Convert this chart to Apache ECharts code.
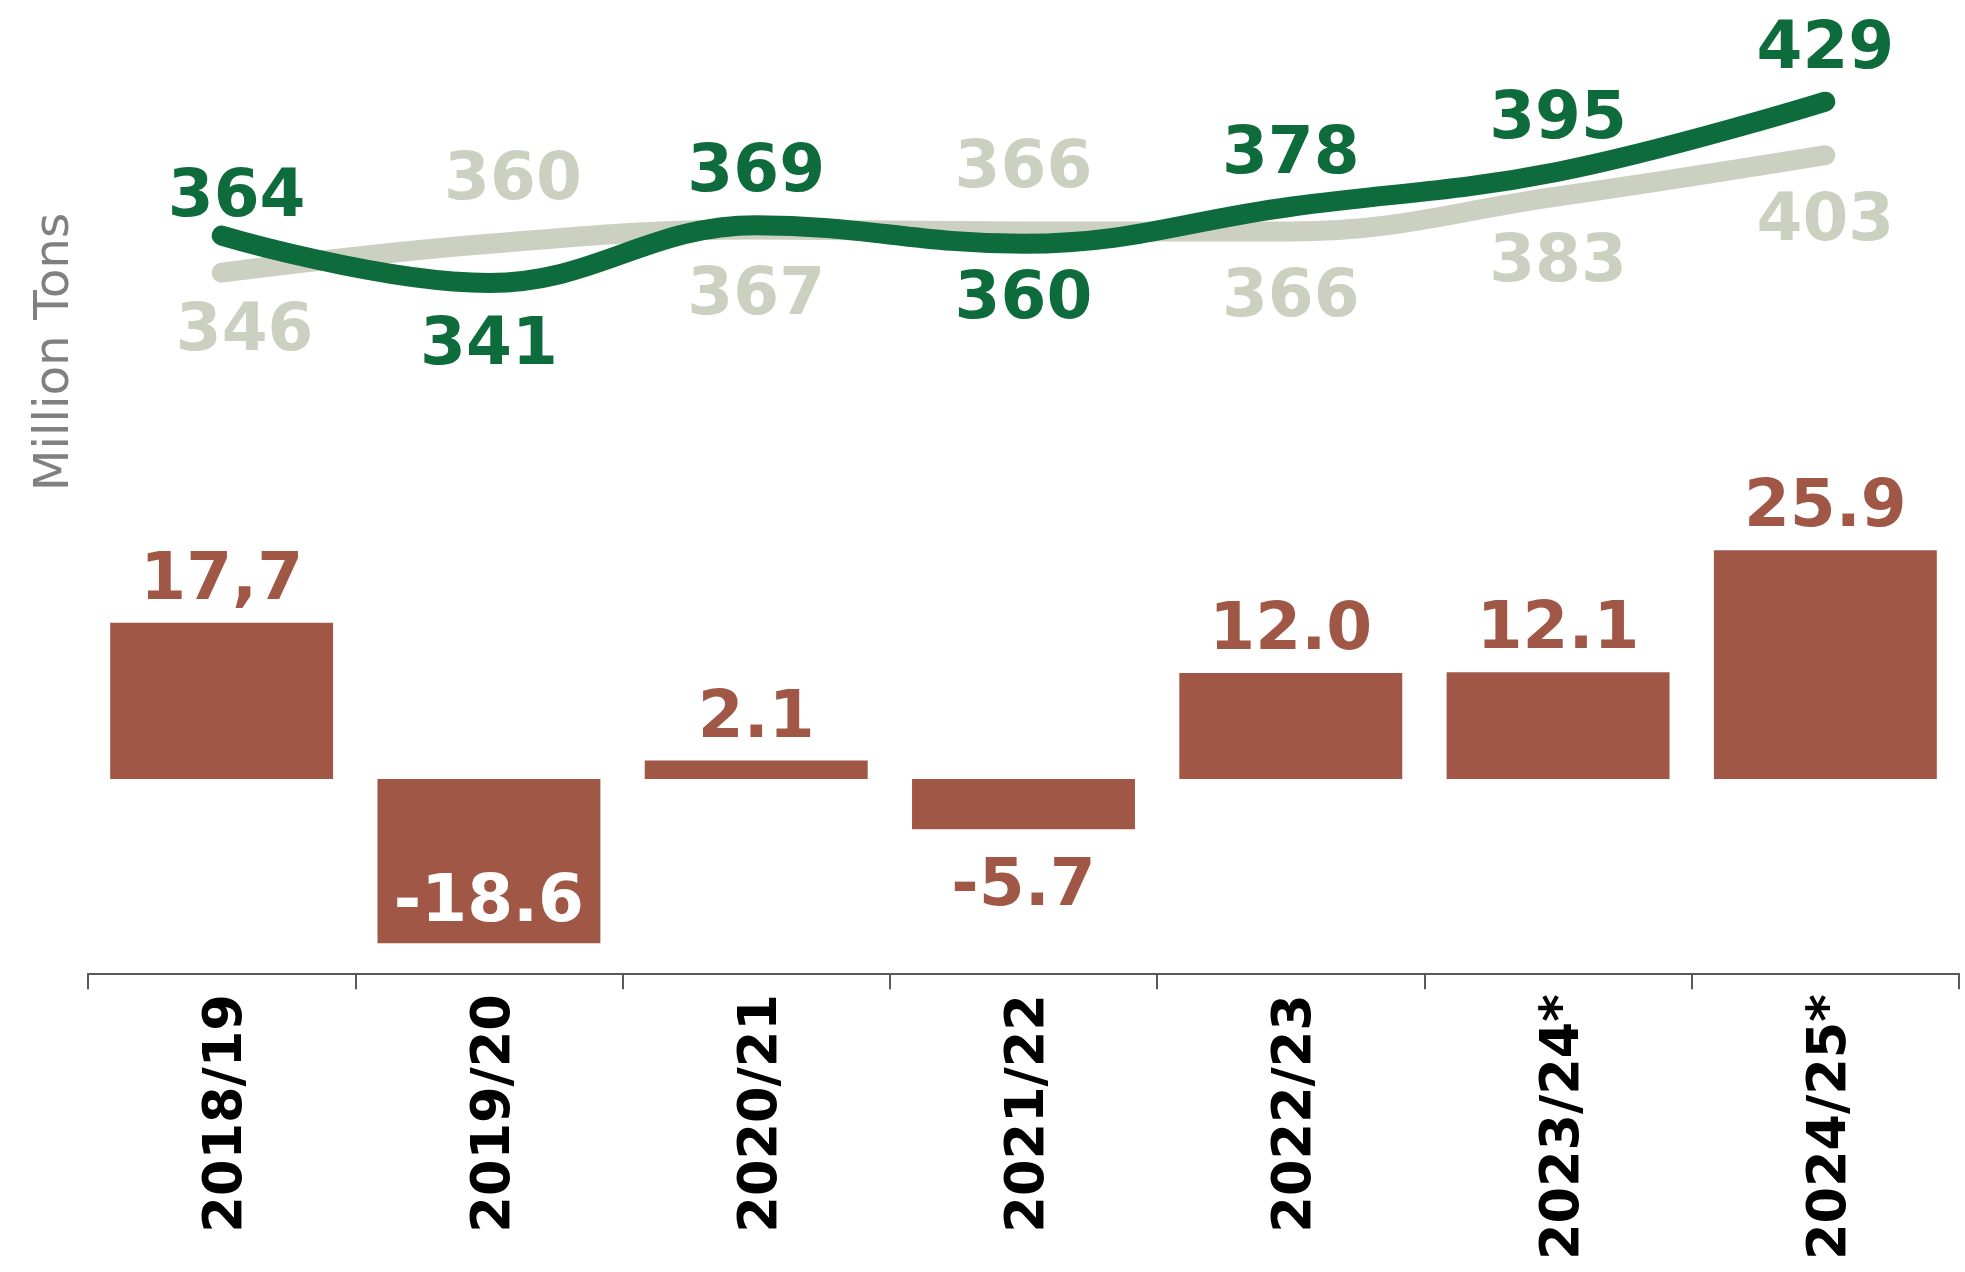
<!DOCTYPE html>
<html>
<head>
<meta charset="utf-8">
<script src="https://cdn.jsdelivr.net/npm/echarts@6/dist/echarts.min.js"></script>
<style>
html,body{margin:0;padding:0;background:#fff;}
#chart{width:1965px;height:1272px;}
</style>
</head>
<body>
<div id="chart"></div>
<script>
const categories = ['2018/19', '2019/20', '2020/21', '2021/22', '2022/23', '2023/24*', '2024/25*'];
const productionValues = [364, 341, 369, 360, 378, 395, 429];
const consumptionValues = [346, 360, 367, 366, 366, 383, 403];
const balanceValues = [17.7, -18.6, 2.1, -5.7, 12.0, 12.1, 25.9];
const balanceLabels = ['17,7', '-18.6', '2.1', '-5.7', '12.0', '12.1', '25.9'];
const productionLabelSide = ['top', 'bottom', 'top', 'bottom', 'top', 'top', 'top'];
const consumptionLabelSide = ['bottom', 'top', 'bottom', 'top', 'bottom', 'bottom', 'bottom'];
const yAxisTitle = 'Million Tons';

const GREEN = '#0E6B3C';
const GRAY = '#CCD0C0';
const BROWN = '#A15745';
const FONT = 'DejaVu Sans';

const chart = echarts.init(document.getElementById('chart'), null, {renderer: 'canvas'});

function lineData(values, sides, topDist, bottomDist, offsets) {
  return values.map((v, i) => ({
    value: v,
    label: {
      position: sides[i],
      distance: sides[i] === 'top' ? topDist : bottomDist,
      offset: offsets[i] || [0, 0]
    }
  }));
}

const barData = balanceValues.map((v, i) => {
  if (v < 0 && i === 1) {
    return {value: v, label: {position: 'insideBottom', color: '#ffffff', distance: 6}};
  }
  if (v < 0) {
    return {value: v, label: {position: 'bottom', distance: 26}};
  }
  return {value: v, label: {position: 'top', distance: 8}};
});

const option = {
  backgroundColor: '#ffffff',
  animation: false,
  grid: [
    {left: 88, right: 6, top: 514.1, height: 459.2},
    {left: 88, right: 6, top: 79, height: 288.4}
  ],
  xAxis: [
    {
      gridIndex: 0, type: 'category', data: categories, boundaryGap: true,
      axisLine: {show: true, onZero: false, lineStyle: {color: '#595959', width: 2}},
      axisTick: {show: true, length: 16, alignWithLabel: false, lineStyle: {color: '#595959', width: 2}},
      axisLabel: {
        rotate: 90, margin: 21, interval: 0,
        formatter: v => '{c|' + v + '}',
        rich: {
          c: {color: '#000000', fontFamily: FONT, fontWeight: 'bold', fontSize: 52.5, padding: [12, 0, 0, 0]}
        }
      }
    },
    {
      gridIndex: 1, type: 'category', data: categories, boundaryGap: true,
      axisLine: {show: false}, axisTick: {show: false}, axisLabel: {show: false}
    }
  ],
  yAxis: [
    {gridIndex: 0, type: 'value', min: -22, max: 30, show: false, splitLine: {show: false}},
    {gridIndex: 1, type: 'value', min: 300, max: 440, show: false, splitLine: {show: false}}
  ],
  graphic: [
    {
      type: 'text',
      x: 55.5, y: 352,
      rotation: Math.PI / 2,
      style: {
        text: yAxisTitle,
        fill: '#808080',
        font: '48.5px "DejaVu Sans"',
        align: 'center',
        verticalAlign: 'middle'
      }
    }
  ],
  series: [
    {
      type: 'bar',
      xAxisIndex: 0, yAxisIndex: 0,
      data: barData,
      barWidth: '83.4%',
      itemStyle: {color: BROWN},
      label: {
        show: true,
        color: BROWN,
        fontFamily: FONT, fontWeight: 'bold', fontSize: 66,
        formatter: p => balanceLabels[p.dataIndex]
      }
    },
    {
      type: 'line',
      xAxisIndex: 1, yAxisIndex: 1,
      data: lineData(consumptionValues, consumptionLabelSide, 28.5, 34, [[23, -7], [24, 0]]),
      smooth: 0.4,
      symbol: 'circle', symbolSize: 1,
      itemStyle: {color: GRAY},
      lineStyle: {color: GRAY, width: 20, cap: 'round', join: 'round'},
      label: {show: true, color: GRAY, fontFamily: FONT, fontWeight: 'bold', fontSize: 66},
      z: 3
    },
    {
      type: 'line',
      xAxisIndex: 1, yAxisIndex: 1,
      data: lineData(productionValues, productionLabelSide, 17.5, 23.5, [[15, 14], [0, 7]]),
      smooth: 0.4,
      symbol: 'circle', symbolSize: 1,
      itemStyle: {color: GREEN},
      lineStyle: {color: GREEN, width: 20, cap: 'round', join: 'round'},
      label: {show: true, color: GREEN, fontFamily: FONT, fontWeight: 'bold', fontSize: 66},
      z: 4
    }
  ]
};
chart.setOption(option);
</script>
</body>
</html>
